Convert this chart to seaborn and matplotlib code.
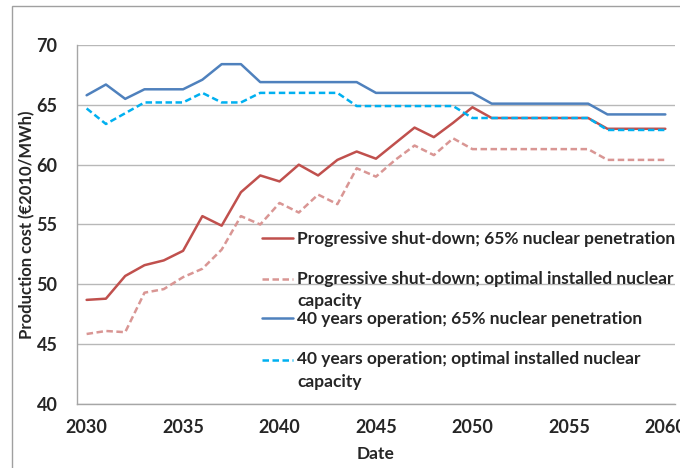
import matplotlib
matplotlib.use("Agg")
import matplotlib.pyplot as plt
import numpy as np
import pandas as pd
import seaborn as sns
from matplotlib.patches import Rectangle

years = list(range(2030, 2061))

# production cost, EUR2010/MWh
prog_65 = [48.7, 48.8, 50.7, 51.6, 52.0, 52.8, 55.7, 54.9, 57.7, 59.1,
           58.6, 60.0, 59.1, 60.4, 61.1, 60.5, 61.8, 63.1, 62.3, 63.5,
           64.8, 63.9, 63.9, 63.9, 63.9, 63.9, 63.9, 63.0, 63.0, 63.0, 63.0]
prog_opt = [45.85, 46.1, 46.0, 49.3, 49.6, 50.6, 51.3, 52.9, 55.7, 55.0,
            56.8, 56.0, 57.5, 56.7, 59.7, 59.0, 60.4, 61.6, 60.8, 62.2,
            61.3, 61.3, 61.3, 61.3, 61.3, 61.3, 61.3, 60.4, 60.4, 60.4, 60.4]
y40_65 = [65.8, 66.7, 65.5, 66.3, 66.3, 66.3, 67.1, 68.4, 68.4, 66.9,
          66.9, 66.9, 66.9, 66.9, 66.9, 66.0, 66.0, 66.0, 66.0, 66.0,
          66.0, 65.1, 65.1, 65.1, 65.1, 65.1, 65.1, 64.2, 64.2, 64.2, 64.2]
y40_opt = [64.7, 63.4, 64.3, 65.2, 65.2, 65.2, 66.0, 65.2, 65.2, 66.0,
           66.0, 66.0, 66.0, 66.0, 64.9, 64.9, 64.9, 64.9, 64.9, 64.9,
           63.9, 63.9, 63.9, 63.9, 63.9, 63.9, 63.9, 62.9, 62.9, 62.9, 62.9]

labels = [
    "Progressive shut-down; 65% nuclear penetration",
    "Progressive shut-down; optimal installed nuclear\ncapacity",
    "40 years operation; 65% nuclear penetration",
    "40 years operation; optimal installed nuclear\ncapacity",
]
series = [prog_65, prog_opt, y40_65, y40_opt]
colors = ["#c0504d", "#d99694", "#4f81bd", "#00b0f0"]

df = pd.concat([pd.DataFrame({"Date": years, "cost": s, "scenario": lab})
                for s, lab in zip(series, labels)], ignore_index=True)

sns.set_style("white")
plt.rcParams["font.family"] = ["Lato", "DejaVu Sans"]
plt.rcParams["font.weight"] = "bold"

fig = plt.figure(figsize=(6.8, 4.68), dpi=100)
ax = fig.add_axes([0.1132, 0.1368, 0.8794, 0.767])

sns.lineplot(data=df, x="Date", y="cost", hue="scenario", style="scenario",
             palette=dict(zip(labels, colors)),
             dashes=dict(zip(labels, ["", (2.6, 1.4), "", (2.6, 1.4)])),
             linewidth=1.8, ax=ax, legend=False)

# excel-like category axis: ticks on slot edges, labels in the slot centres
ax.set_xlim(2029.5, 2060.5)
ax.set_xticks(np.arange(2029.5, 2061, 5))
ax.set_xticklabels([])
ax.set_xticks(np.arange(2030, 2061, 5), minor=True)
ax.set_xticklabels([str(y) for y in range(2030, 2061, 5)], minor=True)
ax.tick_params(axis="x", which="major", direction="out", length=5, width=1, color="#a6a6a6")
ax.tick_params(axis="x", which="minor", length=0, pad=11, labelsize=13)
ax.set_ylim(40, 70)
ax.set_yticks(range(40, 71, 5))
ax.tick_params(axis="y", direction="out", length=6, width=1, color="#a6a6a6", pad=8, labelsize=13)

ax.grid(axis="y", color="#b8b8b8", linewidth=1)
ax.set_axisbelow(True)
for side in ["top", "right"]:
    ax.spines[side].set_visible(False)
for side in ["left", "bottom"]:
    ax.spines[side].set_color("#a6a6a6")
    ax.spines[side].set_linewidth(1)

ax.set_xlabel("Date", fontsize=12.5, fontweight="bold", labelpad=7)
ax.set_ylabel("Production cost (\u20ac2010/MWh)", fontsize=12, fontweight="bold", labelpad=1)

# blank first line so the key sits beside the first line of a wrapped label
leg_labels = [("\n" + lab) if "\n" in lab else lab for lab in labels]
handles = ax.get_lines()[:4]
leg = ax.legend(handles, leg_labels, loc="upper left", bbox_to_anchor=(0.309, 0.483),
                frameon=False, borderpad=0, borderaxespad=0, handlelength=1.8,
                handletextpad=0.25, labelspacing=0.1,
                prop={"family": "Lato", "weight": "bold", "size": 12.5})
for t in leg.get_texts():
    t.set_linespacing(1.5)

# thin frame round the chart area
fig.patches.append(Rectangle((12 / 680, -0.5), 2, 1.5 - 6 / 468, transform=fig.transFigure,
                             fill=False, edgecolor="#a0a0a0", linewidth=1))

fig.savefig("out.png", dpi=100)
